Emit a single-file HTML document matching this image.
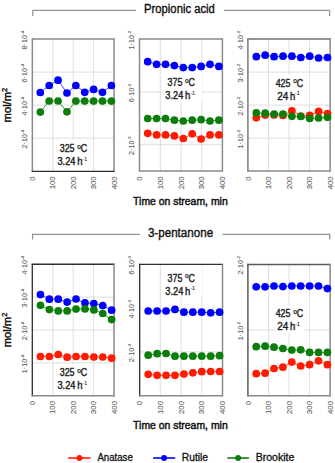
<!DOCTYPE html>
<html><head><meta charset="utf-8"><style>
html,body{margin:0;padding:0;background:#fff;overflow:hidden;width:335px;height:463px;}
svg{display:block;font-family:"Liberation Sans", sans-serif;}
</style></head><body>
<svg width="335" height="463" viewBox="0 0 335 463">
<rect width="335" height="463" fill="#fff"/>
<line x1="52.80" y1="39.10" x2="52.80" y2="171.10" stroke="#dedede" stroke-width="1"/>
<line x1="73.20" y1="39.10" x2="73.20" y2="171.10" stroke="#dedede" stroke-width="1"/>
<line x1="93.60" y1="39.10" x2="93.60" y2="171.10" stroke="#dedede" stroke-width="1"/>
<line x1="32.40" y1="72.10" x2="114.00" y2="72.10" stroke="#dedede" stroke-width="1"/>
<line x1="32.40" y1="105.10" x2="114.00" y2="105.10" stroke="#dedede" stroke-width="1"/>
<line x1="32.40" y1="138.10" x2="114.00" y2="138.10" stroke="#dedede" stroke-width="1"/>
<rect x="55" y="139.5" width="37" height="30.80000000000001" fill="#fff"/>
<text x="59.75" y="152.40" font-size="10.6" fill="#1e1e1e" stroke="#1e1e1e" stroke-width="0.4" textLength="14.80" lengthAdjust="spacingAndGlyphs">325</text>
<text x="77.25" y="149.10" font-size="6.4" fill="#1e1e1e" stroke="#1e1e1e" stroke-width="0.25" textLength="3.70" lengthAdjust="spacingAndGlyphs">o</text>
<text x="80.75" y="152.40" font-size="10.6" fill="#1e1e1e" stroke="#1e1e1e" stroke-width="0.4" textLength="6.40" lengthAdjust="spacingAndGlyphs">C</text>
<text x="57.45" y="165.40" font-size="10.6" fill="#1e1e1e" stroke="#1e1e1e" stroke-width="0.4" textLength="18.00" lengthAdjust="spacingAndGlyphs">3.24</text>
<text x="77.25" y="165.40" font-size="10.6" fill="#1e1e1e" stroke="#1e1e1e" stroke-width="0.4" textLength="5.30" lengthAdjust="spacingAndGlyphs">h</text>
<text x="82.85" y="161.20" font-size="5.8" fill="#1e1e1e" stroke="#1e1e1e" stroke-width="0.15" textLength="4.10" lengthAdjust="spacingAndGlyphs">-1</text>
<line x1="31.75" y1="39.05" x2="114.60" y2="39.05" stroke="#8a8a8a" stroke-width="1.5"/>
<line x1="32.35" y1="38.45" x2="32.35" y2="171.95" stroke="#8a8a8a" stroke-width="1.5"/>
<line x1="114.00" y1="38.45" x2="114.00" y2="171.95" stroke="#8a8a8a" stroke-width="1.5"/>
<line x1="31.75" y1="171.35" x2="114.60" y2="171.35" stroke="#2e2e2e" stroke-width="1.3"/>
<text transform="translate(26.80,40.10) rotate(-90) scale(1.1,1)" text-anchor="middle" font-size="6.6" fill="#636363" stroke="#636363" stroke-width="0.1">8·10<tspan font-size="4.2" dy="-2.6">-4</tspan></text>
<text transform="translate(26.80,73.10) rotate(-90) scale(1.1,1)" text-anchor="middle" font-size="6.6" fill="#636363" stroke="#636363" stroke-width="0.1">6·10<tspan font-size="4.2" dy="-2.6">-4</tspan></text>
<text transform="translate(26.80,106.10) rotate(-90) scale(1.1,1)" text-anchor="middle" font-size="6.6" fill="#636363" stroke="#636363" stroke-width="0.1">4·10<tspan font-size="4.2" dy="-2.6">-4</tspan></text>
<text transform="translate(26.80,139.10) rotate(-90) scale(1.1,1)" text-anchor="middle" font-size="6.6" fill="#636363" stroke="#636363" stroke-width="0.1">2·10<tspan font-size="4.2" dy="-2.6">-4</tspan></text>
<text transform="translate(34.90,176.30) rotate(-90) scale(1.12,1)" text-anchor="end" font-size="7" fill="#636363" stroke="#636363" stroke-width="0.1">0</text>
<text transform="translate(55.30,176.30) rotate(-90) scale(1.12,1)" text-anchor="end" font-size="7" fill="#636363" stroke="#636363" stroke-width="0.1">100</text>
<text transform="translate(75.70,176.30) rotate(-90) scale(1.12,1)" text-anchor="end" font-size="7" fill="#636363" stroke="#636363" stroke-width="0.1">200</text>
<text transform="translate(96.10,176.30) rotate(-90) scale(1.12,1)" text-anchor="end" font-size="7" fill="#636363" stroke="#636363" stroke-width="0.1">300</text>
<text transform="translate(116.50,176.30) rotate(-90) scale(1.12,1)" text-anchor="end" font-size="7" fill="#636363" stroke="#636363" stroke-width="0.1">400</text>
<polyline points="40.30,92.50 49.18,85.50 58.07,80.20 66.95,93.00 75.84,85.50 84.72,92.30 93.61,89.40 102.50,92.30 111.38,85.50" fill="none" stroke="#4a4aff" stroke-width="1"/>
<circle cx="40.30" cy="92.50" r="3.85" fill="#0000ff"/>
<circle cx="49.18" cy="85.50" r="3.85" fill="#0000ff"/>
<circle cx="58.07" cy="80.20" r="3.85" fill="#0000ff"/>
<circle cx="66.95" cy="93.00" r="3.85" fill="#0000ff"/>
<circle cx="75.84" cy="85.50" r="3.85" fill="#0000ff"/>
<circle cx="84.72" cy="92.30" r="3.85" fill="#0000ff"/>
<circle cx="93.61" cy="89.40" r="3.85" fill="#0000ff"/>
<circle cx="102.50" cy="92.30" r="3.85" fill="#0000ff"/>
<circle cx="111.38" cy="85.50" r="3.85" fill="#0000ff"/>
<polyline points="40.30,112.10 49.18,101.00 58.07,101.00 66.95,111.80 75.84,101.10 84.72,101.10 93.61,101.10 102.50,101.10 111.38,101.10" fill="none" stroke="#3c963c" stroke-width="1"/>
<circle cx="40.30" cy="112.10" r="3.85" fill="#0b7d0b"/>
<circle cx="49.18" cy="101.00" r="3.85" fill="#0b7d0b"/>
<circle cx="58.07" cy="101.00" r="3.85" fill="#0b7d0b"/>
<circle cx="66.95" cy="111.80" r="3.85" fill="#0b7d0b"/>
<circle cx="75.84" cy="101.10" r="3.85" fill="#0b7d0b"/>
<circle cx="84.72" cy="101.10" r="3.85" fill="#0b7d0b"/>
<circle cx="93.61" cy="101.10" r="3.85" fill="#0b7d0b"/>
<circle cx="102.50" cy="101.10" r="3.85" fill="#0b7d0b"/>
<circle cx="111.38" cy="101.10" r="3.85" fill="#0b7d0b"/>
<line x1="160.32" y1="39.10" x2="160.32" y2="171.10" stroke="#dedede" stroke-width="1"/>
<line x1="181.05" y1="39.10" x2="181.05" y2="171.10" stroke="#dedede" stroke-width="1"/>
<line x1="201.78" y1="39.10" x2="201.78" y2="171.10" stroke="#dedede" stroke-width="1"/>
<line x1="139.60" y1="91.90" x2="222.50" y2="91.90" stroke="#dedede" stroke-width="1"/>
<line x1="139.60" y1="144.70" x2="222.50" y2="144.70" stroke="#dedede" stroke-width="1"/>
<rect x="161.5" y="73" width="40.5" height="29" fill="#fff"/>
<text x="167.60" y="86.30" font-size="10.6" fill="#1e1e1e" stroke="#1e1e1e" stroke-width="0.4" textLength="14.80" lengthAdjust="spacingAndGlyphs">375</text>
<text x="185.10" y="83.00" font-size="6.4" fill="#1e1e1e" stroke="#1e1e1e" stroke-width="0.25" textLength="3.70" lengthAdjust="spacingAndGlyphs">o</text>
<text x="188.60" y="86.30" font-size="10.6" fill="#1e1e1e" stroke="#1e1e1e" stroke-width="0.4" textLength="6.40" lengthAdjust="spacingAndGlyphs">C</text>
<text x="165.30" y="99.30" font-size="10.6" fill="#1e1e1e" stroke="#1e1e1e" stroke-width="0.4" textLength="18.00" lengthAdjust="spacingAndGlyphs">3.24</text>
<text x="185.10" y="99.30" font-size="10.6" fill="#1e1e1e" stroke="#1e1e1e" stroke-width="0.4" textLength="5.30" lengthAdjust="spacingAndGlyphs">h</text>
<text x="190.70" y="95.10" font-size="5.8" fill="#1e1e1e" stroke="#1e1e1e" stroke-width="0.15" textLength="4.10" lengthAdjust="spacingAndGlyphs">-1</text>
<line x1="138.90" y1="39.10" x2="223.00" y2="39.10" stroke="#8a8a8a" stroke-width="1.5"/>
<line x1="139.50" y1="38.50" x2="139.50" y2="171.50" stroke="#8a8a8a" stroke-width="1.5"/>
<line x1="222.40" y1="38.50" x2="222.40" y2="171.50" stroke="#8a8a8a" stroke-width="1.5"/>
<line x1="138.90" y1="170.90" x2="223.00" y2="170.90" stroke="#8a8a8a" stroke-width="1.5"/>
<text transform="translate(134.00,40.10) rotate(-90) scale(1.1,1)" text-anchor="middle" font-size="6.6" fill="#636363" stroke="#636363" stroke-width="0.1">1·10<tspan font-size="4.2" dy="-2.6">-2</tspan></text>
<text transform="translate(134.00,92.90) rotate(-90) scale(1.1,1)" text-anchor="middle" font-size="6.6" fill="#636363" stroke="#636363" stroke-width="0.1">6·10<tspan font-size="4.2" dy="-2.6">-3</tspan></text>
<text transform="translate(134.00,145.70) rotate(-90) scale(1.1,1)" text-anchor="middle" font-size="6.6" fill="#636363" stroke="#636363" stroke-width="0.1">2·10<tspan font-size="4.2" dy="-2.6">-3</tspan></text>
<text transform="translate(142.10,176.30) rotate(-90) scale(1.12,1)" text-anchor="end" font-size="7" fill="#636363" stroke="#636363" stroke-width="0.1">0</text>
<text transform="translate(162.82,176.30) rotate(-90) scale(1.12,1)" text-anchor="end" font-size="7" fill="#636363" stroke="#636363" stroke-width="0.1">100</text>
<text transform="translate(183.55,176.30) rotate(-90) scale(1.12,1)" text-anchor="end" font-size="7" fill="#636363" stroke="#636363" stroke-width="0.1">200</text>
<text transform="translate(204.28,176.30) rotate(-90) scale(1.12,1)" text-anchor="end" font-size="7" fill="#636363" stroke="#636363" stroke-width="0.1">300</text>
<text transform="translate(225.00,176.30) rotate(-90) scale(1.12,1)" text-anchor="end" font-size="7" fill="#636363" stroke="#636363" stroke-width="0.1">400</text>
<polyline points="147.70,133.30 156.60,134.90 165.50,134.90 174.40,135.90 183.30,138.50 192.20,133.80 201.10,139.00 210.00,134.90 218.90,134.90" fill="none" stroke="#ff5a40" stroke-width="1"/>
<circle cx="147.70" cy="133.30" r="3.85" fill="#ff1a00"/>
<circle cx="156.60" cy="134.90" r="3.85" fill="#ff1a00"/>
<circle cx="165.50" cy="134.90" r="3.85" fill="#ff1a00"/>
<circle cx="174.40" cy="135.90" r="3.85" fill="#ff1a00"/>
<circle cx="183.30" cy="138.50" r="3.85" fill="#ff1a00"/>
<circle cx="192.20" cy="133.80" r="3.85" fill="#ff1a00"/>
<circle cx="201.10" cy="139.00" r="3.85" fill="#ff1a00"/>
<circle cx="210.00" cy="134.90" r="3.85" fill="#ff1a00"/>
<circle cx="218.90" cy="134.90" r="3.85" fill="#ff1a00"/>
<polyline points="147.70,61.70 156.60,64.30 165.50,64.30 174.40,65.60 183.30,67.60 192.20,67.60 201.10,66.40 210.00,64.30 218.90,66.40" fill="none" stroke="#4a4aff" stroke-width="1"/>
<circle cx="147.70" cy="61.70" r="3.85" fill="#0000ff"/>
<circle cx="156.60" cy="64.30" r="3.85" fill="#0000ff"/>
<circle cx="165.50" cy="64.30" r="3.85" fill="#0000ff"/>
<circle cx="174.40" cy="65.60" r="3.85" fill="#0000ff"/>
<circle cx="183.30" cy="67.60" r="3.85" fill="#0000ff"/>
<circle cx="192.20" cy="67.60" r="3.85" fill="#0000ff"/>
<circle cx="201.10" cy="66.40" r="3.85" fill="#0000ff"/>
<circle cx="210.00" cy="64.30" r="3.85" fill="#0000ff"/>
<circle cx="218.90" cy="66.40" r="3.85" fill="#0000ff"/>
<polyline points="147.70,118.50 156.60,118.50 165.50,118.50 174.40,120.20 183.30,121.00 192.20,120.20 201.10,119.70 210.00,121.00 218.90,120.20" fill="none" stroke="#3c963c" stroke-width="1"/>
<circle cx="147.70" cy="118.50" r="3.85" fill="#0b7d0b"/>
<circle cx="156.60" cy="118.50" r="3.85" fill="#0b7d0b"/>
<circle cx="165.50" cy="118.50" r="3.85" fill="#0b7d0b"/>
<circle cx="174.40" cy="120.20" r="3.85" fill="#0b7d0b"/>
<circle cx="183.30" cy="121.00" r="3.85" fill="#0b7d0b"/>
<circle cx="192.20" cy="120.20" r="3.85" fill="#0b7d0b"/>
<circle cx="201.10" cy="119.70" r="3.85" fill="#0b7d0b"/>
<circle cx="210.00" cy="121.00" r="3.85" fill="#0b7d0b"/>
<circle cx="218.90" cy="120.20" r="3.85" fill="#0b7d0b"/>
<line x1="268.60" y1="39.10" x2="268.60" y2="171.10" stroke="#dedede" stroke-width="1"/>
<line x1="289.10" y1="39.10" x2="289.10" y2="171.10" stroke="#dedede" stroke-width="1"/>
<line x1="309.60" y1="39.10" x2="309.60" y2="171.10" stroke="#dedede" stroke-width="1"/>
<line x1="248.10" y1="72.10" x2="330.10" y2="72.10" stroke="#dedede" stroke-width="1"/>
<line x1="248.10" y1="105.10" x2="330.10" y2="105.10" stroke="#dedede" stroke-width="1"/>
<line x1="248.10" y1="138.10" x2="330.10" y2="138.10" stroke="#dedede" stroke-width="1"/>
<rect x="275" y="74" width="29" height="28" fill="#fff"/>
<text x="275.65" y="86.60" font-size="10.6" fill="#1e1e1e" stroke="#1e1e1e" stroke-width="0.4" textLength="14.80" lengthAdjust="spacingAndGlyphs">425</text>
<text x="293.15" y="83.30" font-size="6.4" fill="#1e1e1e" stroke="#1e1e1e" stroke-width="0.25" textLength="3.70" lengthAdjust="spacingAndGlyphs">o</text>
<text x="296.65" y="86.60" font-size="10.6" fill="#1e1e1e" stroke="#1e1e1e" stroke-width="0.4" textLength="6.40" lengthAdjust="spacingAndGlyphs">C</text>
<text x="277.25" y="99.60" font-size="10.6" fill="#1e1e1e" stroke="#1e1e1e" stroke-width="0.4" textLength="11.10" lengthAdjust="spacingAndGlyphs">24</text>
<text x="289.95" y="99.60" font-size="10.6" fill="#1e1e1e" stroke="#1e1e1e" stroke-width="0.4" textLength="5.30" lengthAdjust="spacingAndGlyphs">h</text>
<text x="295.35" y="95.40" font-size="5.8" fill="#1e1e1e" stroke="#1e1e1e" stroke-width="0.15" textLength="4.30" lengthAdjust="spacingAndGlyphs">-1</text>
<line x1="247.30" y1="39.10" x2="330.70" y2="39.10" stroke="#707070" stroke-width="1.5"/>
<line x1="247.90" y1="38.50" x2="247.90" y2="171.50" stroke="#7a7a7a" stroke-width="1.5"/>
<line x1="330.10" y1="38.50" x2="330.10" y2="171.50" stroke="#8a8a8a" stroke-width="1.5"/>
<line x1="247.30" y1="170.90" x2="330.70" y2="170.90" stroke="#8a8a8a" stroke-width="1.5"/>
<text transform="translate(242.50,40.10) rotate(-90) scale(1.1,1)" text-anchor="middle" font-size="6.6" fill="#636363" stroke="#636363" stroke-width="0.1">4·10<tspan font-size="4.2" dy="-2.6">-2</tspan></text>
<text transform="translate(242.50,73.10) rotate(-90) scale(1.1,1)" text-anchor="middle" font-size="6.6" fill="#636363" stroke="#636363" stroke-width="0.1">3·10<tspan font-size="4.2" dy="-2.6">-2</tspan></text>
<text transform="translate(242.50,106.10) rotate(-90) scale(1.1,1)" text-anchor="middle" font-size="6.6" fill="#636363" stroke="#636363" stroke-width="0.1">2·10<tspan font-size="4.2" dy="-2.6">-2</tspan></text>
<text transform="translate(242.50,139.10) rotate(-90) scale(1.1,1)" text-anchor="middle" font-size="6.6" fill="#636363" stroke="#636363" stroke-width="0.1">1·10<tspan font-size="4.2" dy="-2.6">-2</tspan></text>
<text transform="translate(250.60,176.30) rotate(-90) scale(1.12,1)" text-anchor="end" font-size="7" fill="#636363" stroke="#636363" stroke-width="0.1">0</text>
<text transform="translate(271.10,176.30) rotate(-90) scale(1.12,1)" text-anchor="end" font-size="7" fill="#636363" stroke="#636363" stroke-width="0.1">100</text>
<text transform="translate(291.60,176.30) rotate(-90) scale(1.12,1)" text-anchor="end" font-size="7" fill="#636363" stroke="#636363" stroke-width="0.1">200</text>
<text transform="translate(312.10,176.30) rotate(-90) scale(1.12,1)" text-anchor="end" font-size="7" fill="#636363" stroke="#636363" stroke-width="0.1">300</text>
<text transform="translate(332.60,176.30) rotate(-90) scale(1.12,1)" text-anchor="end" font-size="7" fill="#636363" stroke="#636363" stroke-width="0.1">400</text>
<polyline points="256.30,117.80 265.20,115.10 274.10,114.90 283.00,115.50 291.90,110.80 300.80,116.00 309.70,115.40 318.60,111.40 327.50,113.70" fill="none" stroke="#ff5a40" stroke-width="1"/>
<circle cx="256.30" cy="117.80" r="3.85" fill="#ff1a00"/>
<circle cx="265.20" cy="115.10" r="3.85" fill="#ff1a00"/>
<circle cx="274.10" cy="114.90" r="3.85" fill="#ff1a00"/>
<circle cx="283.00" cy="115.50" r="3.85" fill="#ff1a00"/>
<circle cx="291.90" cy="110.80" r="3.85" fill="#ff1a00"/>
<circle cx="300.80" cy="116.00" r="3.85" fill="#ff1a00"/>
<circle cx="309.70" cy="115.40" r="3.85" fill="#ff1a00"/>
<circle cx="318.60" cy="111.40" r="3.85" fill="#ff1a00"/>
<circle cx="327.50" cy="113.70" r="3.85" fill="#ff1a00"/>
<polyline points="256.30,56.70 265.20,55.20 274.10,56.70 283.00,56.20 291.90,56.20 300.80,57.50 309.70,56.20 318.60,58.00 327.50,57.50" fill="none" stroke="#4a4aff" stroke-width="1"/>
<circle cx="256.30" cy="56.70" r="3.85" fill="#0000ff"/>
<circle cx="265.20" cy="55.20" r="3.85" fill="#0000ff"/>
<circle cx="274.10" cy="56.70" r="3.85" fill="#0000ff"/>
<circle cx="283.00" cy="56.20" r="3.85" fill="#0000ff"/>
<circle cx="291.90" cy="56.20" r="3.85" fill="#0000ff"/>
<circle cx="300.80" cy="57.50" r="3.85" fill="#0000ff"/>
<circle cx="309.70" cy="56.20" r="3.85" fill="#0000ff"/>
<circle cx="318.60" cy="58.00" r="3.85" fill="#0000ff"/>
<circle cx="327.50" cy="57.50" r="3.85" fill="#0000ff"/>
<polyline points="256.30,112.90 265.20,113.20 274.10,114.00 283.00,114.00 291.90,116.30 300.80,116.50 309.70,118.40 318.60,118.00 327.50,117.30" fill="none" stroke="#3c963c" stroke-width="1"/>
<circle cx="256.30" cy="112.90" r="3.85" fill="#0b7d0b"/>
<circle cx="265.20" cy="113.20" r="3.85" fill="#0b7d0b"/>
<circle cx="274.10" cy="114.00" r="3.85" fill="#0b7d0b"/>
<circle cx="283.00" cy="114.00" r="3.85" fill="#0b7d0b"/>
<circle cx="291.90" cy="116.30" r="3.85" fill="#0b7d0b"/>
<circle cx="300.80" cy="116.50" r="3.85" fill="#0b7d0b"/>
<circle cx="309.70" cy="118.40" r="3.85" fill="#0b7d0b"/>
<circle cx="318.60" cy="118.00" r="3.85" fill="#0b7d0b"/>
<circle cx="327.50" cy="117.30" r="3.85" fill="#0b7d0b"/>
<text transform="translate(11.2,105.10) rotate(-90) scale(1.0,1)" text-anchor="middle" font-size="11.2" fill="#111" stroke="#111" stroke-width="0.42">mol/m<tspan font-size="7.5" dy="-4.2" stroke-width="0.35">2</tspan></text>
<line x1="52.80" y1="264.20" x2="52.80" y2="395.80" stroke="#dedede" stroke-width="1"/>
<line x1="73.20" y1="264.20" x2="73.20" y2="395.80" stroke="#dedede" stroke-width="1"/>
<line x1="93.60" y1="264.20" x2="93.60" y2="395.80" stroke="#dedede" stroke-width="1"/>
<line x1="32.40" y1="297.10" x2="114.00" y2="297.10" stroke="#dedede" stroke-width="1"/>
<line x1="32.40" y1="330.00" x2="114.00" y2="330.00" stroke="#dedede" stroke-width="1"/>
<line x1="32.40" y1="362.90" x2="114.00" y2="362.90" stroke="#dedede" stroke-width="1"/>
<rect x="55" y="364.5" width="37" height="30.5" fill="#fff"/>
<text x="59.75" y="376.40" font-size="10.6" fill="#1e1e1e" stroke="#1e1e1e" stroke-width="0.4" textLength="14.80" lengthAdjust="spacingAndGlyphs">325</text>
<text x="77.25" y="373.10" font-size="6.4" fill="#1e1e1e" stroke="#1e1e1e" stroke-width="0.25" textLength="3.70" lengthAdjust="spacingAndGlyphs">o</text>
<text x="80.75" y="376.40" font-size="10.6" fill="#1e1e1e" stroke="#1e1e1e" stroke-width="0.4" textLength="6.40" lengthAdjust="spacingAndGlyphs">C</text>
<text x="57.45" y="389.40" font-size="10.6" fill="#1e1e1e" stroke="#1e1e1e" stroke-width="0.4" textLength="18.00" lengthAdjust="spacingAndGlyphs">3.24</text>
<text x="77.25" y="389.40" font-size="10.6" fill="#1e1e1e" stroke="#1e1e1e" stroke-width="0.4" textLength="5.30" lengthAdjust="spacingAndGlyphs">h</text>
<text x="82.85" y="385.20" font-size="5.8" fill="#1e1e1e" stroke="#1e1e1e" stroke-width="0.15" textLength="4.10" lengthAdjust="spacingAndGlyphs">-1</text>
<line x1="31.70" y1="264.25" x2="114.60" y2="264.25" stroke="#2e2e2e" stroke-width="1.3"/>
<line x1="32.30" y1="263.65" x2="32.30" y2="396.40" stroke="#2e2e2e" stroke-width="1.3"/>
<line x1="114.00" y1="263.65" x2="114.00" y2="396.40" stroke="#8a8a8a" stroke-width="1.5"/>
<line x1="31.70" y1="395.80" x2="114.60" y2="395.80" stroke="#8a8a8a" stroke-width="1.5"/>
<text transform="translate(26.80,265.20) rotate(-90) scale(1.1,1)" text-anchor="middle" font-size="6.6" fill="#636363" stroke="#636363" stroke-width="0.1">4·10<tspan font-size="4.2" dy="-2.6">-4</tspan></text>
<text transform="translate(26.80,298.10) rotate(-90) scale(1.1,1)" text-anchor="middle" font-size="6.6" fill="#636363" stroke="#636363" stroke-width="0.1">3·10<tspan font-size="4.2" dy="-2.6">-4</tspan></text>
<text transform="translate(26.80,331.00) rotate(-90) scale(1.1,1)" text-anchor="middle" font-size="6.6" fill="#636363" stroke="#636363" stroke-width="0.1">2·10<tspan font-size="4.2" dy="-2.6">-4</tspan></text>
<text transform="translate(26.80,363.90) rotate(-90) scale(1.1,1)" text-anchor="middle" font-size="6.6" fill="#636363" stroke="#636363" stroke-width="0.1">1·10<tspan font-size="4.2" dy="-2.6">-4</tspan></text>
<text transform="translate(34.90,401.00) rotate(-90) scale(1.12,1)" text-anchor="end" font-size="7" fill="#636363" stroke="#636363" stroke-width="0.1">0</text>
<text transform="translate(55.30,401.00) rotate(-90) scale(1.12,1)" text-anchor="end" font-size="7" fill="#636363" stroke="#636363" stroke-width="0.1">100</text>
<text transform="translate(75.70,401.00) rotate(-90) scale(1.12,1)" text-anchor="end" font-size="7" fill="#636363" stroke="#636363" stroke-width="0.1">200</text>
<text transform="translate(96.10,401.00) rotate(-90) scale(1.12,1)" text-anchor="end" font-size="7" fill="#636363" stroke="#636363" stroke-width="0.1">300</text>
<text transform="translate(116.50,401.00) rotate(-90) scale(1.12,1)" text-anchor="end" font-size="7" fill="#636363" stroke="#636363" stroke-width="0.1">400</text>
<polyline points="40.45,356.50 49.35,356.50 58.25,354.50 67.15,357.20 76.05,356.50 84.95,356.50 93.85,357.00 102.75,357.00 111.65,358.20" fill="none" stroke="#ff5a40" stroke-width="1"/>
<circle cx="40.45" cy="356.50" r="3.85" fill="#ff1a00"/>
<circle cx="49.35" cy="356.50" r="3.85" fill="#ff1a00"/>
<circle cx="58.25" cy="354.50" r="3.85" fill="#ff1a00"/>
<circle cx="67.15" cy="357.20" r="3.85" fill="#ff1a00"/>
<circle cx="76.05" cy="356.50" r="3.85" fill="#ff1a00"/>
<circle cx="84.95" cy="356.50" r="3.85" fill="#ff1a00"/>
<circle cx="93.85" cy="357.00" r="3.85" fill="#ff1a00"/>
<circle cx="102.75" cy="357.00" r="3.85" fill="#ff1a00"/>
<circle cx="111.65" cy="358.20" r="3.85" fill="#ff1a00"/>
<polyline points="40.45,294.60 49.35,299.20 58.25,299.20 67.15,302.10 76.05,299.00 84.95,302.90 93.85,303.60 102.75,305.60 111.65,310.20" fill="none" stroke="#4a4aff" stroke-width="1"/>
<circle cx="40.45" cy="294.60" r="3.85" fill="#0000ff"/>
<circle cx="49.35" cy="299.20" r="3.85" fill="#0000ff"/>
<circle cx="58.25" cy="299.20" r="3.85" fill="#0000ff"/>
<circle cx="67.15" cy="302.10" r="3.85" fill="#0000ff"/>
<circle cx="76.05" cy="299.00" r="3.85" fill="#0000ff"/>
<circle cx="84.95" cy="302.90" r="3.85" fill="#0000ff"/>
<circle cx="93.85" cy="303.60" r="3.85" fill="#0000ff"/>
<circle cx="102.75" cy="305.60" r="3.85" fill="#0000ff"/>
<circle cx="111.65" cy="310.20" r="3.85" fill="#0000ff"/>
<polyline points="40.45,305.30 49.35,309.60 58.25,310.90 67.15,310.90 76.05,309.10 84.95,308.90 93.85,309.90 102.75,313.50 111.65,319.60" fill="none" stroke="#3c963c" stroke-width="1"/>
<circle cx="40.45" cy="305.30" r="3.85" fill="#0b7d0b"/>
<circle cx="49.35" cy="309.60" r="3.85" fill="#0b7d0b"/>
<circle cx="58.25" cy="310.90" r="3.85" fill="#0b7d0b"/>
<circle cx="67.15" cy="310.90" r="3.85" fill="#0b7d0b"/>
<circle cx="76.05" cy="309.10" r="3.85" fill="#0b7d0b"/>
<circle cx="84.95" cy="308.90" r="3.85" fill="#0b7d0b"/>
<circle cx="93.85" cy="309.90" r="3.85" fill="#0b7d0b"/>
<circle cx="102.75" cy="313.50" r="3.85" fill="#0b7d0b"/>
<circle cx="111.65" cy="319.60" r="3.85" fill="#0b7d0b"/>
<line x1="160.32" y1="264.20" x2="160.32" y2="395.80" stroke="#dedede" stroke-width="1"/>
<line x1="181.05" y1="264.20" x2="181.05" y2="395.80" stroke="#dedede" stroke-width="1"/>
<line x1="201.78" y1="264.20" x2="201.78" y2="395.80" stroke="#dedede" stroke-width="1"/>
<line x1="139.60" y1="308.07" x2="222.50" y2="308.07" stroke="#f0f0f0" stroke-width="1"/>
<line x1="139.60" y1="351.93" x2="222.50" y2="351.93" stroke="#dedede" stroke-width="1"/>
<rect x="161.5" y="266" width="40.5" height="31" fill="#fff"/>
<text x="167.60" y="281.60" font-size="10.6" fill="#1e1e1e" stroke="#1e1e1e" stroke-width="0.4" textLength="14.80" lengthAdjust="spacingAndGlyphs">375</text>
<text x="185.10" y="278.30" font-size="6.4" fill="#1e1e1e" stroke="#1e1e1e" stroke-width="0.25" textLength="3.70" lengthAdjust="spacingAndGlyphs">o</text>
<text x="188.60" y="281.60" font-size="10.6" fill="#1e1e1e" stroke="#1e1e1e" stroke-width="0.4" textLength="6.40" lengthAdjust="spacingAndGlyphs">C</text>
<text x="165.30" y="294.60" font-size="10.6" fill="#1e1e1e" stroke="#1e1e1e" stroke-width="0.4" textLength="18.00" lengthAdjust="spacingAndGlyphs">3.24</text>
<text x="185.10" y="294.60" font-size="10.6" fill="#1e1e1e" stroke="#1e1e1e" stroke-width="0.4" textLength="5.30" lengthAdjust="spacingAndGlyphs">h</text>
<text x="190.70" y="290.40" font-size="5.8" fill="#1e1e1e" stroke="#1e1e1e" stroke-width="0.15" textLength="4.10" lengthAdjust="spacingAndGlyphs">-1</text>
<line x1="139.10" y1="264.40" x2="223.10" y2="264.40" stroke="#2e2e2e" stroke-width="1.3"/>
<line x1="139.70" y1="263.80" x2="139.70" y2="396.40" stroke="#2e2e2e" stroke-width="1.3"/>
<line x1="222.50" y1="263.80" x2="222.50" y2="396.40" stroke="#8a8a8a" stroke-width="1.5"/>
<line x1="139.10" y1="395.80" x2="223.10" y2="395.80" stroke="#8a8a8a" stroke-width="1.5"/>
<text transform="translate(134.00,265.20) rotate(-90) scale(1.1,1)" text-anchor="middle" font-size="6.6" fill="#636363" stroke="#636363" stroke-width="0.1">6·10<tspan font-size="4.2" dy="-2.6">-3</tspan></text>
<text transform="translate(134.00,309.07) rotate(-90) scale(1.1,1)" text-anchor="middle" font-size="6.6" fill="#636363" stroke="#636363" stroke-width="0.1">4·10<tspan font-size="4.2" dy="-2.6">-3</tspan></text>
<text transform="translate(134.00,352.93) rotate(-90) scale(1.1,1)" text-anchor="middle" font-size="6.6" fill="#636363" stroke="#636363" stroke-width="0.1">2·10<tspan font-size="4.2" dy="-2.6">-3</tspan></text>
<text transform="translate(142.10,401.00) rotate(-90) scale(1.12,1)" text-anchor="end" font-size="7" fill="#636363" stroke="#636363" stroke-width="0.1">0</text>
<text transform="translate(162.82,401.00) rotate(-90) scale(1.12,1)" text-anchor="end" font-size="7" fill="#636363" stroke="#636363" stroke-width="0.1">100</text>
<text transform="translate(183.55,401.00) rotate(-90) scale(1.12,1)" text-anchor="end" font-size="7" fill="#636363" stroke="#636363" stroke-width="0.1">200</text>
<text transform="translate(204.28,401.00) rotate(-90) scale(1.12,1)" text-anchor="end" font-size="7" fill="#636363" stroke="#636363" stroke-width="0.1">300</text>
<text transform="translate(225.00,401.00) rotate(-90) scale(1.12,1)" text-anchor="end" font-size="7" fill="#636363" stroke="#636363" stroke-width="0.1">400</text>
<polyline points="148.20,374.30 157.12,375.30 166.05,375.30 174.97,375.30 183.90,374.00 192.82,372.80 201.75,371.70 210.68,371.50 219.60,371.50" fill="none" stroke="#ff5a40" stroke-width="1"/>
<circle cx="148.20" cy="374.30" r="3.85" fill="#ff1a00"/>
<circle cx="157.12" cy="375.30" r="3.85" fill="#ff1a00"/>
<circle cx="166.05" cy="375.30" r="3.85" fill="#ff1a00"/>
<circle cx="174.97" cy="375.30" r="3.85" fill="#ff1a00"/>
<circle cx="183.90" cy="374.00" r="3.85" fill="#ff1a00"/>
<circle cx="192.82" cy="372.80" r="3.85" fill="#ff1a00"/>
<circle cx="201.75" cy="371.70" r="3.85" fill="#ff1a00"/>
<circle cx="210.68" cy="371.50" r="3.85" fill="#ff1a00"/>
<circle cx="219.60" cy="371.50" r="3.85" fill="#ff1a00"/>
<polyline points="148.20,311.00 157.12,311.00 166.05,311.00 174.97,309.40 183.90,312.20 192.82,312.20 201.75,312.20 210.68,312.80 219.60,312.20" fill="none" stroke="#4a4aff" stroke-width="1"/>
<circle cx="148.20" cy="311.00" r="3.85" fill="#0000ff"/>
<circle cx="157.12" cy="311.00" r="3.85" fill="#0000ff"/>
<circle cx="166.05" cy="311.00" r="3.85" fill="#0000ff"/>
<circle cx="174.97" cy="309.40" r="3.85" fill="#0000ff"/>
<circle cx="183.90" cy="312.20" r="3.85" fill="#0000ff"/>
<circle cx="192.82" cy="312.20" r="3.85" fill="#0000ff"/>
<circle cx="201.75" cy="312.20" r="3.85" fill="#0000ff"/>
<circle cx="210.68" cy="312.80" r="3.85" fill="#0000ff"/>
<circle cx="219.60" cy="312.20" r="3.85" fill="#0000ff"/>
<polyline points="148.20,355.20 157.12,353.70 166.05,353.50 174.97,356.20 183.90,356.20 192.82,356.20 201.75,356.20 210.68,356.20 219.60,355.70" fill="none" stroke="#3c963c" stroke-width="1"/>
<circle cx="148.20" cy="355.20" r="3.85" fill="#0b7d0b"/>
<circle cx="157.12" cy="353.70" r="3.85" fill="#0b7d0b"/>
<circle cx="166.05" cy="353.50" r="3.85" fill="#0b7d0b"/>
<circle cx="174.97" cy="356.20" r="3.85" fill="#0b7d0b"/>
<circle cx="183.90" cy="356.20" r="3.85" fill="#0b7d0b"/>
<circle cx="192.82" cy="356.20" r="3.85" fill="#0b7d0b"/>
<circle cx="201.75" cy="356.20" r="3.85" fill="#0b7d0b"/>
<circle cx="210.68" cy="356.20" r="3.85" fill="#0b7d0b"/>
<circle cx="219.60" cy="355.70" r="3.85" fill="#0b7d0b"/>
<line x1="268.60" y1="264.20" x2="268.60" y2="395.80" stroke="#dedede" stroke-width="1"/>
<line x1="289.10" y1="264.20" x2="289.10" y2="395.80" stroke="#dedede" stroke-width="1"/>
<line x1="309.60" y1="264.20" x2="309.60" y2="395.80" stroke="#dedede" stroke-width="1"/>
<line x1="248.10" y1="330.00" x2="330.10" y2="330.00" stroke="#dedede" stroke-width="1"/>
<rect x="275" y="305.5" width="29" height="27.5" fill="#fff"/>
<text x="275.65" y="316.80" font-size="10.6" fill="#1e1e1e" stroke="#1e1e1e" stroke-width="0.4" textLength="14.80" lengthAdjust="spacingAndGlyphs">425</text>
<text x="293.15" y="313.50" font-size="6.4" fill="#1e1e1e" stroke="#1e1e1e" stroke-width="0.25" textLength="3.70" lengthAdjust="spacingAndGlyphs">o</text>
<text x="296.65" y="316.80" font-size="10.6" fill="#1e1e1e" stroke="#1e1e1e" stroke-width="0.4" textLength="6.40" lengthAdjust="spacingAndGlyphs">C</text>
<text x="277.25" y="329.80" font-size="10.6" fill="#1e1e1e" stroke="#1e1e1e" stroke-width="0.4" textLength="11.10" lengthAdjust="spacingAndGlyphs">24</text>
<text x="289.95" y="329.80" font-size="10.6" fill="#1e1e1e" stroke="#1e1e1e" stroke-width="0.4" textLength="5.30" lengthAdjust="spacingAndGlyphs">h</text>
<text x="295.35" y="325.60" font-size="5.8" fill="#1e1e1e" stroke="#1e1e1e" stroke-width="0.15" textLength="4.30" lengthAdjust="spacingAndGlyphs">-1</text>
<line x1="247.30" y1="264.40" x2="330.70" y2="264.40" stroke="#5a5a5a" stroke-width="1.5"/>
<line x1="247.90" y1="263.80" x2="247.90" y2="396.40" stroke="#5a5a5a" stroke-width="1.5"/>
<line x1="330.10" y1="263.80" x2="330.10" y2="396.40" stroke="#8a8a8a" stroke-width="1.5"/>
<line x1="247.30" y1="395.80" x2="330.70" y2="395.80" stroke="#8a8a8a" stroke-width="1.5"/>
<text transform="translate(242.50,265.20) rotate(-90) scale(1.1,1)" text-anchor="middle" font-size="6.6" fill="#636363" stroke="#636363" stroke-width="0.1">2·10<tspan font-size="4.2" dy="-2.6">-2</tspan></text>
<text transform="translate(242.50,331.00) rotate(-90) scale(1.1,1)" text-anchor="middle" font-size="6.6" fill="#636363" stroke="#636363" stroke-width="0.1">1·10<tspan font-size="4.2" dy="-2.6">-2</tspan></text>
<text transform="translate(250.60,401.00) rotate(-90) scale(1.12,1)" text-anchor="end" font-size="7" fill="#636363" stroke="#636363" stroke-width="0.1">0</text>
<text transform="translate(271.10,401.00) rotate(-90) scale(1.12,1)" text-anchor="end" font-size="7" fill="#636363" stroke="#636363" stroke-width="0.1">100</text>
<text transform="translate(291.60,401.00) rotate(-90) scale(1.12,1)" text-anchor="end" font-size="7" fill="#636363" stroke="#636363" stroke-width="0.1">200</text>
<text transform="translate(312.10,401.00) rotate(-90) scale(1.12,1)" text-anchor="end" font-size="7" fill="#636363" stroke="#636363" stroke-width="0.1">300</text>
<text transform="translate(332.60,401.00) rotate(-90) scale(1.12,1)" text-anchor="end" font-size="7" fill="#636363" stroke="#636363" stroke-width="0.1">400</text>
<polyline points="256.20,373.70 265.10,373.20 274.00,368.50 282.90,367.20 291.80,362.10 300.70,366.00 309.60,364.70 318.50,360.80 327.40,364.70" fill="none" stroke="#ff5a40" stroke-width="1"/>
<circle cx="256.20" cy="373.70" r="3.85" fill="#ff1a00"/>
<circle cx="265.10" cy="373.20" r="3.85" fill="#ff1a00"/>
<circle cx="274.00" cy="368.50" r="3.85" fill="#ff1a00"/>
<circle cx="282.90" cy="367.20" r="3.85" fill="#ff1a00"/>
<circle cx="291.80" cy="362.10" r="3.85" fill="#ff1a00"/>
<circle cx="300.70" cy="366.00" r="3.85" fill="#ff1a00"/>
<circle cx="309.60" cy="364.70" r="3.85" fill="#ff1a00"/>
<circle cx="318.50" cy="360.80" r="3.85" fill="#ff1a00"/>
<circle cx="327.40" cy="364.70" r="3.85" fill="#ff1a00"/>
<polyline points="256.20,286.80 265.10,286.80 274.00,286.00 282.90,286.60 291.80,286.00 300.70,286.00 309.60,286.00 318.50,286.00 327.40,288.60" fill="none" stroke="#4a4aff" stroke-width="1"/>
<circle cx="256.20" cy="286.80" r="3.85" fill="#0000ff"/>
<circle cx="265.10" cy="286.80" r="3.85" fill="#0000ff"/>
<circle cx="274.00" cy="286.00" r="3.85" fill="#0000ff"/>
<circle cx="282.90" cy="286.60" r="3.85" fill="#0000ff"/>
<circle cx="291.80" cy="286.00" r="3.85" fill="#0000ff"/>
<circle cx="300.70" cy="286.00" r="3.85" fill="#0000ff"/>
<circle cx="309.60" cy="286.00" r="3.85" fill="#0000ff"/>
<circle cx="318.50" cy="286.00" r="3.85" fill="#0000ff"/>
<circle cx="327.40" cy="288.60" r="3.85" fill="#0000ff"/>
<polyline points="256.20,346.70 265.10,346.20 274.00,347.20 282.90,348.50 291.80,350.10 300.70,349.80 309.60,352.40 318.50,352.40 327.40,352.40" fill="none" stroke="#3c963c" stroke-width="1"/>
<circle cx="256.20" cy="346.70" r="3.85" fill="#0b7d0b"/>
<circle cx="265.10" cy="346.20" r="3.85" fill="#0b7d0b"/>
<circle cx="274.00" cy="347.20" r="3.85" fill="#0b7d0b"/>
<circle cx="282.90" cy="348.50" r="3.85" fill="#0b7d0b"/>
<circle cx="291.80" cy="350.10" r="3.85" fill="#0b7d0b"/>
<circle cx="300.70" cy="349.80" r="3.85" fill="#0b7d0b"/>
<circle cx="309.60" cy="352.40" r="3.85" fill="#0b7d0b"/>
<circle cx="318.50" cy="352.40" r="3.85" fill="#0b7d0b"/>
<circle cx="327.40" cy="352.40" r="3.85" fill="#0b7d0b"/>
<text transform="translate(11.2,330.00) rotate(-90) scale(1.0,1)" text-anchor="middle" font-size="11.2" fill="#111" stroke="#111" stroke-width="0.42">mol/m<tspan font-size="7.5" dy="-4.2" stroke-width="0.35">2</tspan></text>
<polyline points="32.8,15.9 32.8,10.4 136.0,10.4" fill="none" stroke="#959595" stroke-width="1.25"/>
<polyline points="224.1,10.4 329.6,10.4 329.6,15.9" fill="none" stroke="#959595" stroke-width="1.25"/>
<polyline points="32.6,239.6 32.6,234.4 139.8,234.4" fill="none" stroke="#959595" stroke-width="1.25"/>
<polyline points="222.5,234.4 329.7,234.4 329.7,239.6" fill="none" stroke="#959595" stroke-width="1.25"/>
<text x="144.1" y="12.9" font-size="13.7" fill="#111" stroke="#111" stroke-width="0.4" textLength="70.7" lengthAdjust="spacingAndGlyphs">Propionic acid</text>
<text x="147.9" y="236.9" font-size="13.7" fill="#111" stroke="#111" stroke-width="0.4" textLength="65.2" lengthAdjust="spacingAndGlyphs">3-pentanone</text>
<text x="133.1" y="204.7" font-size="10.4" fill="#111" stroke="#111" stroke-width="0.45" textLength="94.6" lengthAdjust="spacingAndGlyphs">Time on stream, min</text>
<text x="133.1" y="428.7" font-size="10.4" fill="#111" stroke="#111" stroke-width="0.45" textLength="94.6" lengthAdjust="spacingAndGlyphs">Time on stream, min</text>
<line x1="68.3" y1="458.0" x2="90.5" y2="458.0" stroke="#ff1a00" stroke-width="1.6"/>
<circle cx="79.4" cy="458.0" r="2.9" fill="#ff1a00"/>
<text x="97.4" y="460.8" font-size="10" fill="#111" stroke="#111" stroke-width="0.3" textLength="35.4" lengthAdjust="spacingAndGlyphs">Anatase</text>
<line x1="153.1" y1="458.0" x2="175.2" y2="458.0" stroke="#0000ff" stroke-width="1.6"/>
<circle cx="164.1" cy="458.0" r="2.9" fill="#0000ff"/>
<text x="181.8" y="460.8" font-size="10" fill="#111" stroke="#111" stroke-width="0.3" textLength="26.2" lengthAdjust="spacingAndGlyphs">Rutile</text>
<line x1="227.4" y1="458.0" x2="248.9" y2="458.0" stroke="#0b7d0b" stroke-width="1.6"/>
<circle cx="238.1" cy="458.0" r="2.9" fill="#0b7d0b"/>
<text x="255.7" y="460.8" font-size="10" fill="#111" stroke="#111" stroke-width="0.3" textLength="38.6" lengthAdjust="spacingAndGlyphs">Brookite</text>
</svg>
</body></html>
